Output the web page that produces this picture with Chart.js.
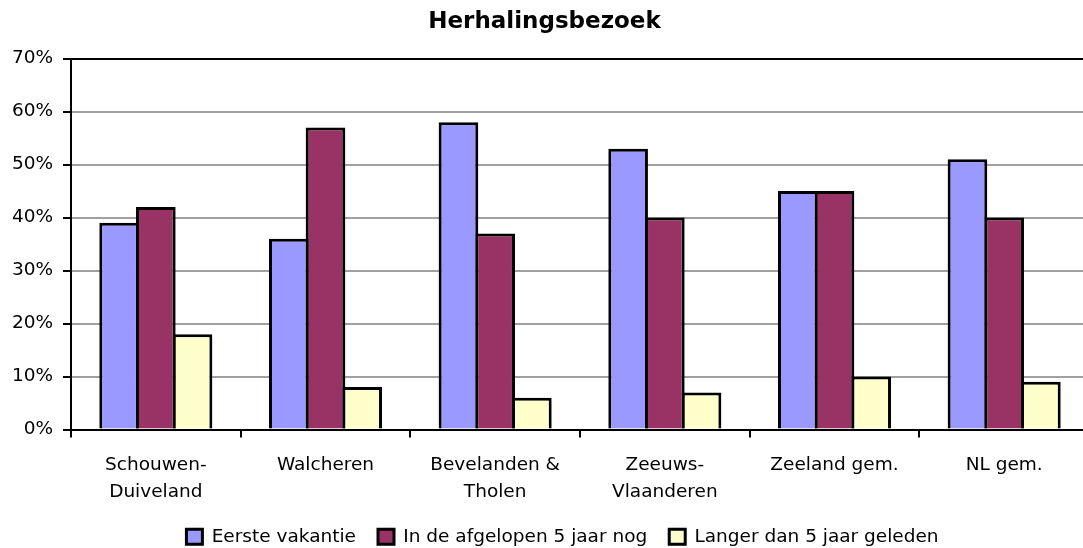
<!DOCTYPE html>
<html>
<head>
<meta charset="utf-8">
<script src="https://cdn.jsdelivr.net/npm/chart.js@4"></script>
<style>
  html, body { margin: 0; padding: 0; background: #fff; overflow: hidden; }
</style>
</head>
<body>
<canvas id="herhalingChart" width="1095" height="558"></canvas>
<script>
const categories = [
  ["Schouwen-", "Duiveland"],
  "Walcheren",
  ["Bevelanden &", "Tholen"],
  ["Zeeuws-", "Vlaanderen"],
  "Zeeland gem.",
  "NL gem."
];
const eersteVakantie = [39, 36, 58, 53, 45, 51];
const afgelopen5Jaar = [42, 57, 37, 40, 45, 40];
const langerDan5Jaar = [18, 8, 6, 7, 10, 9];
const yTicks = [0, 10, 20, 30, 40, 50, 60, 70];

const ctx = document.getElementById("herhalingChart").getContext("2d");
const font = "'DejaVu Sans', Verdana, sans-serif";

// legend sits a bit right of centre in the original
const shiftLegend = {
  id: 'shiftLegend',
  afterLayout(chart) {
    chart.legend.left += 18;
    chart.legend.right += 18;
  }
};

new Chart(ctx, {
  type: 'bar',
  data: {
    labels: categories,
    datasets: [
      { label: 'Eerste vakantie', data: eersteVakantie, backgroundColor: '#9999ff' },
      { label: 'In de afgelopen 5 jaar nog', data: afgelopen5Jaar, backgroundColor: '#993366' },
      { label: 'Langer dan 5 jaar geleden', data: langerDan5Jaar, backgroundColor: '#ffffcc' }
    ].map(d => Object.assign(d, {
      borderColor: '#000',
      borderWidth: 3,
      barPercentage: 1.08,
      categoryPercentage: 0.649
    }))
  },
  options: {
    responsive: false,
    animation: false,
    layout: { padding: { left: 0, right: 6, top: 0, bottom: 2 } },
    plugins: {
      title: {
        display: true,
        text: 'Herhalingsbezoek',
        color: '#000',
        font: { family: font, size: 23, weight: 'bold' },
        padding: { top: 8, bottom: 23 }
      },
      legend: {
        position: 'bottom',
        labels: {
          color: '#000',
          font: { family: font, size: 18.5 },
          boxWidth: 16,
          boxHeight: 15,
          padding: 22
        }
      },
      tooltip: { enabled: false }
    },
    scales: {
      x: {
        grid: {
          display: true,
          drawOnChartArea: false,
          color: '#000',
          lineWidth: 2,
          tickLength: 8
        },
        border: { color: '#000', width: 2 },
        ticks: {
          color: '#000',
          font: { family: font, size: 18.5, lineHeight: 1.48 },
          maxRotation: 0,
          padding: 14
        },
        afterFit: (s) => { s.height = 76; }
      },
      y: {
        min: 0,
        max: 70,
        afterBuildTicks: (s) => { s.ticks = yTicks.map(v => ({ value: v })); },
        grid: {
          color: (c) => c.tick && c.tick.value === 70 ? '#000' : '#a0a0a0',
          lineWidth: 2,
          tickColor: '#000',
          tickLength: 8
        },
        border: { color: '#000', width: 2 },
        ticks: {
          color: '#000',
          font: { family: font, size: 18.5 },
          padding: 10,
          callback: (v) => v + '%'
        },
        afterFit: (s) => { s.width = 71; }
      }
    }
  },
  plugins: [shiftLegend]
});
</script>
</body>
</html>
